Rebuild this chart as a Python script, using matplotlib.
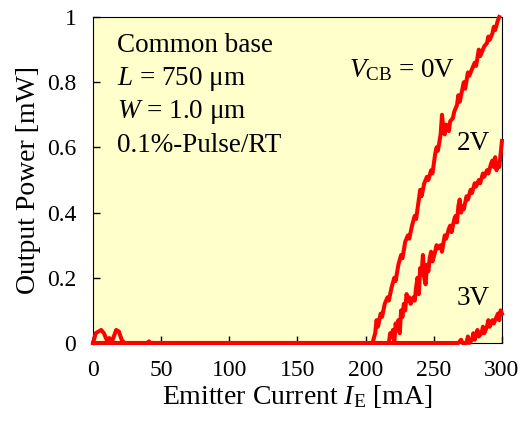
import matplotlib
matplotlib.use("Agg")
import matplotlib.pyplot as plt

# Data (Emitter current mA, output power mW)
x_0v = [0, 2, 4, 6, 8, 10, 12, 14, 17, 19, 21, 23, 40, 41, 42, 205, 207, 208, 209, 211, 212,
        214, 216, 217, 219, 221, 222, 224, 226, 227, 229, 231, 232, 234, 236, 237, 239, 240,
        241, 243, 245, 246, 248, 249, 251, 252, 253, 255, 256, 257, 258, 259, 261, 262, 264,
        265, 267, 268, 269, 271, 272, 273, 275, 276, 278, 280, 281, 283, 284, 286, 287, 289,
        290, 291, 293, 294, 295, 297, 298]
y_0v = [0, 0.03, 0.035, 0.04, 0.03, 0.01, 0.015, 0.005, 0.04, 0.035, 0.01, 0.0, 0.0, 0.005, 0,
        0, 0.03, 0.07, 0.05, 0.09, 0.08, 0.12, 0.14, 0.13, 0.17, 0.2, 0.19, 0.24, 0.27, 0.26,
        0.31, 0.33, 0.32, 0.36, 0.39, 0.38, 0.44, 0.47, 0.45, 0.49, 0.51, 0.50, 0.53, 0.52,
        0.58, 0.60, 0.59, 0.64, 0.70, 0.66, 0.64, 0.67, 0.65, 0.68, 0.69, 0.71, 0.73, 0.76,
        0.74, 0.78, 0.80, 0.78, 0.83, 0.82, 0.84, 0.86, 0.85, 0.90, 0.88, 0.90, 0.91, 0.92,
        0.94, 0.93, 0.95, 0.97, 0.96, 0.99, 1.0]

x_2v = [0, 217, 218, 219, 220, 221, 222, 223, 224, 225, 226, 227, 228, 229, 230, 231, 232, 233,
        235, 236, 237, 238, 239, 240, 241, 242, 243, 244, 245, 246, 247, 248, 249, 251, 252,
        253, 255, 256, 258, 259, 261, 262, 263, 265, 266, 267, 268, 269, 270, 271, 272, 274,
        275, 277, 278, 280, 281, 283, 284, 286, 287, 289, 290, 292, 293, 294, 295, 296, 297,
        298, 299, 300]
y_2v = [0, 0, 0.03, 0.02, 0.04, 0.0, 0.06, 0.04, 0.07, 0.03, 0.1, 0.08, 0.12, 0.1, 0.15, 0.13,
        0.14, 0.12, 0.14, 0.13, 0.17, 0.2, 0.15, 0.23, 0.21, 0.27, 0.2, 0.18, 0.24, 0.22, 0.26,
        0.28, 0.25, 0.28, 0.3, 0.29, 0.3, 0.28, 0.33, 0.32, 0.35, 0.36, 0.34, 0.38, 0.39, 0.37,
        0.42, 0.44, 0.4, 0.42, 0.41, 0.45, 0.44, 0.47, 0.46, 0.49, 0.48, 0.5, 0.49, 0.52, 0.51,
        0.53, 0.52, 0.55, 0.56, 0.54, 0.57, 0.53, 0.55, 0.54, 0.58, 0.62]

x_3v = [0, 268, 270, 271, 274, 275, 276, 278, 279, 280, 282, 283, 285, 286, 287, 289, 290, 291,
        293, 294, 296, 297, 298, 299, 300]
y_3v = [0, 0, 0.01, 0, 0.0, 0.02, 0.0, 0.01, 0.03, 0.01, 0.04, 0.02, 0.03, 0.05, 0.03, 0.05,
        0.07, 0.05, 0.07, 0.06, 0.08, 0.09, 0.07, 0.1, 0.09]

plt.rcParams['font.family'] = 'Liberation Serif'
plt.rcParams['mathtext.fontset'] = 'custom'
plt.rcParams['mathtext.rm'] = 'Liberation Serif'
plt.rcParams['mathtext.it'] = 'Liberation Serif:italic'

fig = plt.figure(figsize=(5.21, 4.21), dpi=100)
ax = fig.add_axes([0.1785, 0.1853, 0.785, 0.7743])
ax.set_facecolor('#ffffcc')

for xs, ys in [(x_3v, y_3v), (x_2v, y_2v), (x_0v, y_0v)]:
    ax.plot(xs, ys, color='#ff0000', lw=2.9, clip_on=False, zorder=5)

ax.set_xlim(0, 300)
ax.set_ylim(0, 1)
ax.set_xticks([0, 50, 100, 150, 200, 250, 300])
ax.set_yticks([0, 0.2, 0.4, 0.6, 0.8, 1])
ax.set_yticklabels(['0', '0.2', '0.4', '0.6', '0.8', '1'])
ax.tick_params(direction='in', length=5, width=1, labelsize=17, pad=12)
ax.set_xlabel(r'Emitter Current $I_{\rm E}$ [mA]', fontsize=20, labelpad=2)
ax.set_ylabel('Output Power [mW]', fontsize=20, labelpad=4)

fs = 19.5
ax.text(0.059, 0.893, 'Common base', transform=ax.transAxes, fontsize=fs, va='baseline')
ax.text(0.059, 0.791, r'$L$ = 750 μm', transform=ax.transAxes, fontsize=fs, va='baseline')
ax.text(0.059, 0.690, r'$W$ = 1.0 μm', transform=ax.transAxes, fontsize=fs, va='baseline')
ax.text(0.059, 0.586, '0.1%-Pulse/RT', transform=ax.transAxes, fontsize=fs, va='baseline')
ax.text(0.885, 0.816, r'$V_{\rm CB}$ = 0V', transform=ax.transAxes, fontsize=fs,
        va='baseline', ha='right')
ax.text(0.971, 0.592, '2V', transform=ax.transAxes, fontsize=fs, va='baseline', ha='right')
ax.text(0.971, 0.117, '3V', transform=ax.transAxes, fontsize=fs, va='baseline', ha='right')

fig.savefig('out.png', dpi=100)
